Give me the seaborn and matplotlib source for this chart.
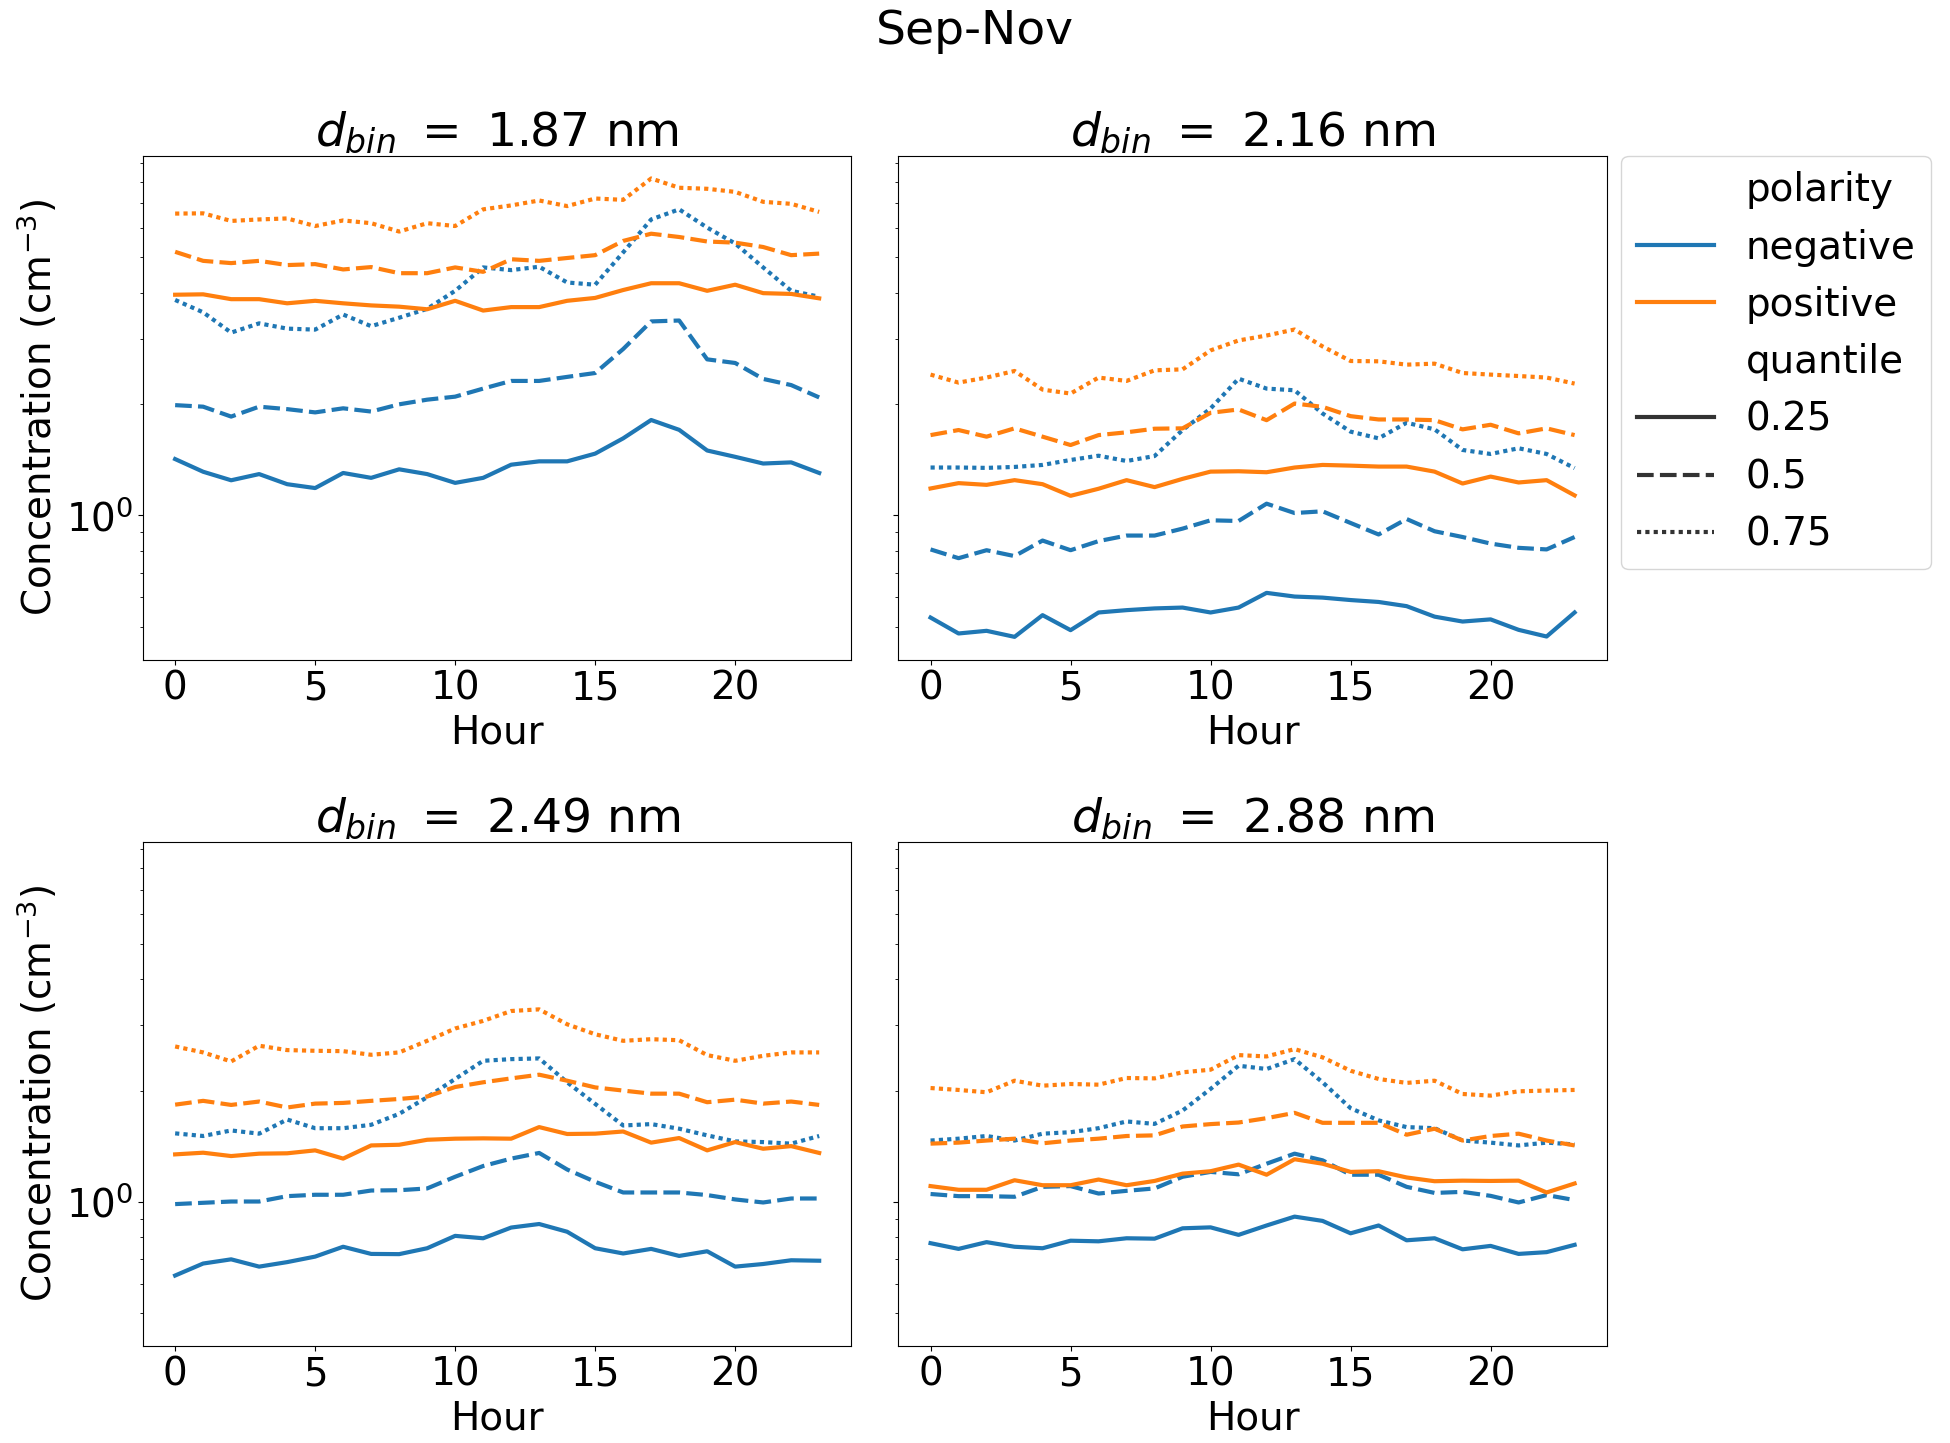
import numpy as np
import pandas as pd
import matplotlib
matplotlib.use("Agg")
import matplotlib.pyplot as plt
import seaborn as sns

# ---------------- data ----------------
hours = list(range(24))
diameters = ["1.87", "2.16", "2.49", "2.88"]
polarities = ["negative", "positive"]
quantiles = ["0.25", "0.5", "0.75"]

# d = 1.87 nm
neg_q25_187 = [1.421, 1.313, 1.245, 1.294, 1.215, 1.186, 1.303, 1.264, 1.333, 1.294, 1.225, 1.264,
               1.372, 1.401, 1.401, 1.470, 1.617, 1.813, 1.705, 1.499, 1.441, 1.382, 1.392, 1.303]
neg_q50_187 = [1.989, 1.970, 1.852, 1.970, 1.940, 1.901, 1.950, 1.911, 1.999, 2.058, 2.097, 2.205,
               2.313, 2.313, 2.372, 2.430, 2.822, 3.352, 3.371, 2.646, 2.587, 2.342, 2.254, 2.087]
neg_q75_187 = [3.832, 3.548, 3.126, 3.312, 3.205, 3.185, 3.499, 3.254, 3.430, 3.626, 4.057, 4.694,
               4.616, 4.714, 4.273, 4.214, 5.155, 6.331, 6.742, 6.017, 5.449, 4.694, 4.057, 3.910]
pos_q25_187 = [3.959, 3.969, 3.851, 3.851, 3.753, 3.812, 3.753, 3.704, 3.675, 3.616, 3.812, 3.587,
               3.665, 3.665, 3.812, 3.881, 4.077, 4.253, 4.253, 4.057, 4.214, 3.998, 3.979, 3.871]
pos_q50_187 = [5.174, 4.890, 4.822, 4.890, 4.763, 4.792, 4.635, 4.704, 4.528, 4.528, 4.694, 4.567,
               4.939, 4.890, 4.978, 5.067, 5.537, 5.792, 5.674, 5.517, 5.478, 5.331, 5.067, 5.116]
pos_q75_187 = [6.566, 6.576, 6.272, 6.331, 6.370, 6.076, 6.292, 6.184, 5.870, 6.184, 6.076, 6.742,
               6.909, 7.125, 6.880, 7.213, 7.154, 8.173, 7.713, 7.664, 7.517, 7.066, 6.978, 6.635]

# d = 2.16 nm
neg_q25_216 = [0.529, 0.479, 0.487, 0.469, 0.537, 0.489, 0.546, 0.554, 0.560, 0.563, 0.546, 0.563,
               0.617, 0.603, 0.599, 0.590, 0.583, 0.568, 0.532, 0.516, 0.523, 0.490, 0.470, 0.546]
neg_q50_216 = [0.809, 0.766, 0.805, 0.776, 0.855, 0.805, 0.852, 0.882, 0.882, 0.921, 0.970, 0.966,
               1.076, 1.015, 1.026, 0.954, 0.888, 0.978, 0.906, 0.874, 0.839, 0.817, 0.809, 0.874]
neg_q75_216 = [1.348, 1.348, 1.345, 1.353, 1.370, 1.413, 1.451, 1.404, 1.448, 1.703, 1.948, 2.346,
               2.205, 2.182, 1.888, 1.686, 1.617, 1.782, 1.710, 1.504, 1.467, 1.520, 1.467, 1.343]
pos_q25_216 = [1.183, 1.223, 1.210, 1.246, 1.215, 1.130, 1.181, 1.246, 1.193, 1.256, 1.314, 1.317,
               1.309, 1.348, 1.370, 1.364, 1.356, 1.356, 1.314, 1.220, 1.274, 1.228, 1.246, 1.133]
pos_q50_216 = [1.650, 1.703, 1.634, 1.721, 1.634, 1.551, 1.650, 1.679, 1.717, 1.721, 1.896, 1.936,
               1.811, 2.009, 1.968, 1.857, 1.819, 1.819, 1.811, 1.710, 1.760, 1.668, 1.721, 1.650]
pos_q75_216 = [2.406, 2.289, 2.362, 2.461, 2.191, 2.138, 2.362, 2.313, 2.471, 2.486, 2.798, 2.977,
               3.070, 3.187, 2.868, 2.619, 2.614, 2.560, 2.576, 2.430, 2.406, 2.385, 2.362, 2.275]

# d = 2.49 nm
neg_q25_249 = [0.631, 0.680, 0.698, 0.667, 0.686, 0.710, 0.755, 0.722, 0.721, 0.748, 0.808, 0.796,
               0.851, 0.870, 0.829, 0.748, 0.724, 0.745, 0.713, 0.734, 0.667, 0.678, 0.694, 0.692]
neg_q50_249 = [0.985, 0.993, 1.001, 1.001, 1.035, 1.044, 1.044, 1.072, 1.074, 1.086, 1.168, 1.249,
               1.308, 1.355, 1.222, 1.132, 1.059, 1.059, 1.059, 1.042, 1.014, 0.995, 1.020, 1.020]
neg_q75_249 = [1.531, 1.506, 1.559, 1.528, 1.669, 1.581, 1.581, 1.615, 1.729, 1.918, 2.149, 2.407,
               2.432, 2.443, 2.105, 1.840, 1.608, 1.622, 1.576, 1.512, 1.456, 1.450, 1.436, 1.506]
pos_q25_249 = [1.343, 1.357, 1.329, 1.349, 1.352, 1.377, 1.308, 1.420, 1.426, 1.471, 1.481, 1.484,
               1.481, 1.592, 1.525, 1.528, 1.549, 1.445, 1.487, 1.377, 1.450, 1.391, 1.414, 1.355]
pos_q50_249 = [1.831, 1.875, 1.828, 1.867, 1.799, 1.843, 1.851, 1.875, 1.897, 1.926, 2.044, 2.105,
               2.157, 2.207, 2.126, 2.039, 1.999, 1.961, 1.961, 1.859, 1.889, 1.843, 1.867, 1.828]
pos_q75_249 = [2.632, 2.536, 2.397, 2.644, 2.573, 2.562, 2.556, 2.499, 2.536, 2.726, 2.944, 3.087,
               3.283, 3.317, 3.022, 2.840, 2.726, 2.754, 2.736, 2.494, 2.407, 2.483, 2.536, 2.536]

# d = 2.88 nm
neg_q25_288 = [0.772, 0.745, 0.777, 0.755, 0.748, 0.784, 0.781, 0.796, 0.794, 0.847, 0.852, 0.813,
               0.862, 0.911, 0.887, 0.821, 0.862, 0.786, 0.796, 0.743, 0.759, 0.722, 0.730, 0.764]
neg_q50_288 = [1.049, 1.035, 1.035, 1.031, 1.097, 1.102, 1.052, 1.070, 1.086, 1.168, 1.204, 1.186,
               1.267, 1.349, 1.294, 1.183, 1.183, 1.097, 1.056, 1.063, 1.037, 0.995, 1.042, 1.010]
neg_q75_288 = [1.464, 1.481, 1.506, 1.464, 1.528, 1.542, 1.581, 1.649, 1.624, 1.765, 2.020, 2.334,
               2.287, 2.432, 2.105, 1.791, 1.660, 1.592, 1.581, 1.464, 1.445, 1.420, 1.445, 1.429]
pos_q25_288 = [1.102, 1.077, 1.077, 1.143, 1.108, 1.108, 1.148, 1.108, 1.138, 1.191, 1.209, 1.260,
               1.183, 1.303, 1.267, 1.204, 1.209, 1.163, 1.136, 1.140, 1.138, 1.140, 1.059, 1.120]
pos_q50_288 = [1.436, 1.445, 1.464, 1.481, 1.439, 1.464, 1.481, 1.506, 1.512, 1.598, 1.622, 1.638,
               1.683, 1.740, 1.635, 1.635, 1.635, 1.518, 1.576, 1.464, 1.506, 1.528, 1.464, 1.420]
pos_q75_288 = [2.031, 2.007, 1.978, 2.126, 2.061, 2.083, 2.074, 2.162, 2.157, 2.240, 2.277, 2.494,
               2.473, 2.589, 2.459, 2.262, 2.149, 2.097, 2.126, 1.957, 1.937, 1.990, 1.999, 2.007]

series = {
    "1.87": {("negative", "0.25"): neg_q25_187, ("negative", "0.5"): neg_q50_187, ("negative", "0.75"): neg_q75_187,
             ("positive", "0.25"): pos_q25_187, ("positive", "0.5"): pos_q50_187, ("positive", "0.75"): pos_q75_187},
    "2.16": {("negative", "0.25"): neg_q25_216, ("negative", "0.5"): neg_q50_216, ("negative", "0.75"): neg_q75_216,
             ("positive", "0.25"): pos_q25_216, ("positive", "0.5"): pos_q50_216, ("positive", "0.75"): pos_q75_216},
    "2.49": {("negative", "0.25"): neg_q25_249, ("negative", "0.5"): neg_q50_249, ("negative", "0.75"): neg_q75_249,
             ("positive", "0.25"): pos_q25_249, ("positive", "0.5"): pos_q50_249, ("positive", "0.75"): pos_q75_249},
    "2.88": {("negative", "0.25"): neg_q25_288, ("negative", "0.5"): neg_q50_288, ("negative", "0.75"): neg_q75_288,
             ("positive", "0.25"): pos_q25_288, ("positive", "0.5"): pos_q50_288, ("positive", "0.75"): pos_q75_288},
}

rows = []
for d, dd in series.items():
    for (pol, q), vals in dd.items():
        for h, v in zip(hours, vals):
            rows.append({"dbin": d, "Hour": h, "polarity": pol, "quantile": q, "conc": v})
df = pd.DataFrame(rows)

palette = {"negative": "#1f77b4", "positive": "#ff7f0e"}

# ---------------- figure ----------------
plt.rcParams["font.family"] = ["DejaVu Sans"]
fig, axes = plt.subplots(2, 2, figsize=(19.5, 14.43), dpi=100, sharey=True)
fig.subplots_adjust(left=0.0733, right=0.824, bottom=0.0672, top=0.8922,
                    wspace=0.0663, hspace=0.361)

for i, (ax, d) in enumerate(zip(axes.flat, diameters)):
    sub = df[df["dbin"] == d]
    sns.lineplot(data=sub, x="Hour", y="conc", hue="polarity", style="quantile",
                 hue_order=polarities, style_order=quantiles, palette=palette,
                 linewidth=3.0, ax=ax, legend=("auto" if i == 1 else False))
    ax.set_title(r"$d_{bin}\ =\ $" + f"{d} nm", fontsize=34)
    ax.set_xlabel("Hour", fontsize=28)
    ax.set_xticks([0, 5, 10, 15, 20])
    ax.tick_params(labelsize=28)
    if i % 2 == 0:
        ax.set_ylabel(r"Concentration (cm$^{-3}$)", fontsize=28)
    else:
        ax.set_ylabel("")

axes[0, 0].set_yscale("log")

sns.move_legend(axes[0, 1], "upper left", bbox_to_anchor=(1.02, 1), borderaxespad=0,
                fontsize=28, frameon=True, title=None)

fig.suptitle("Sep-Nov", fontsize=34, y=0.994)
fig.savefig("out.png", dpi=100)
